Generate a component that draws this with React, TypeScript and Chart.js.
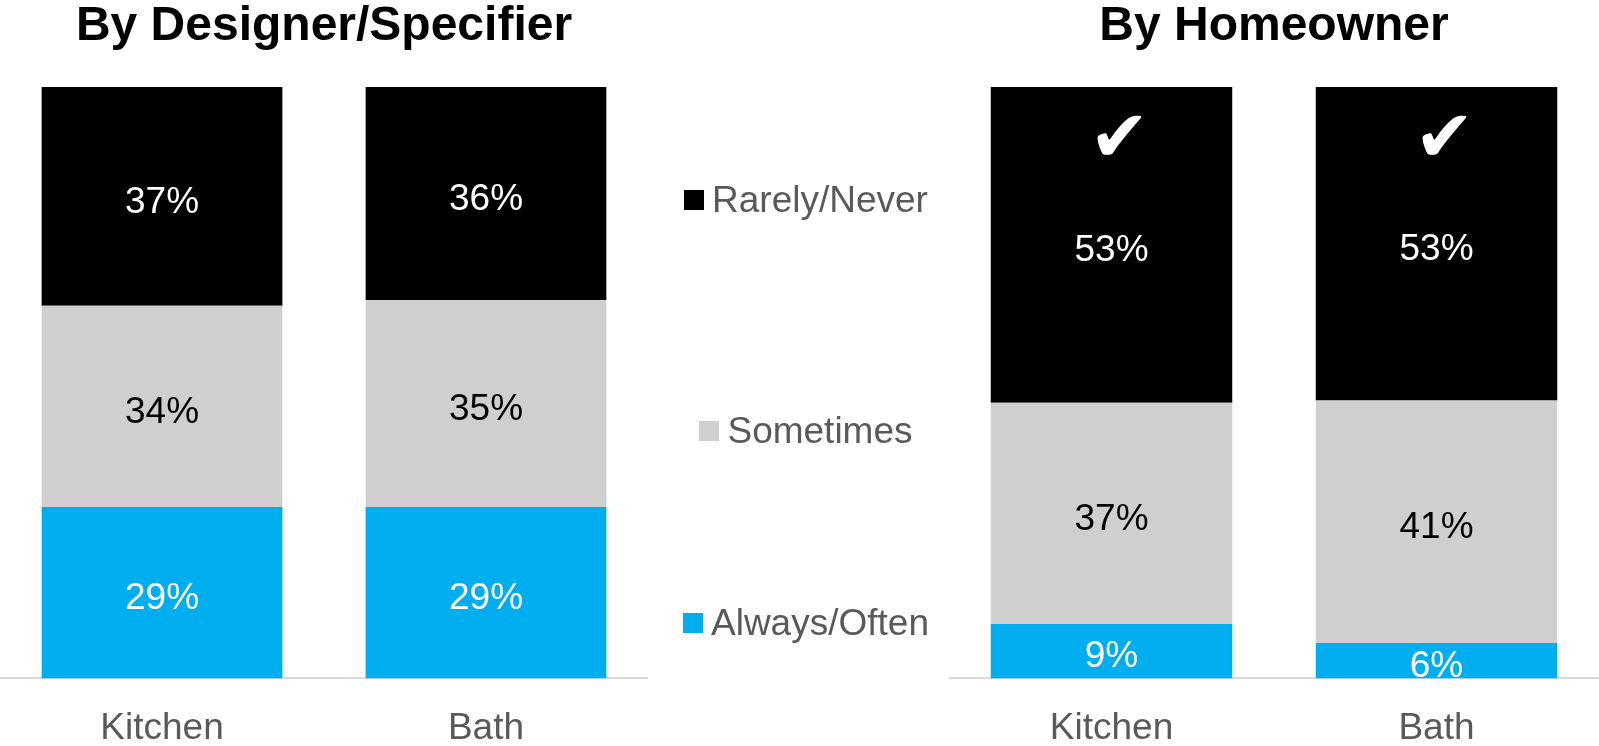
import React, { useEffect, useRef } from "react";
import { Chart, registerables } from "chart.js";

Chart.register(...registerables);

const categories = ["Kitchen", "Bath"];
const seriesNames = ["Always/Often", "Sometimes", "Rarely/Never"];
const seriesColors = ["#00AEEF", "#D0CECE", "#000000"];
const labelColors = ["#FFFFFF", "#000000", "#FFFFFF"];

// By Designer/Specifier
const designerAlways = [29, 29];
const designerSometimes = [34, 35];
const designerRarely = [37, 36];

// By Homeowner
const homeownerAlways = [9.2, 6];
const homeownerSometimes = [37.4, 41];
const homeownerRarely = [53.4, 53];
const homeownerChecked = [true, true];

const FONT = "'Liberation Sans', Arial, Helvetica, sans-serif";

const dataLabelPlugin = {
  id: "segLabels",
  afterDatasetsDraw(chart: any) {
    const ctx = chart.ctx;
    ctx.save();
    ctx.font = `37px ${FONT}`;
    ctx.textAlign = "center";
    ctx.textBaseline = "middle";
    chart.data.datasets.forEach((ds: any, di: number) => {
      const meta = chart.getDatasetMeta(di);
      meta.data.forEach((el: any, i: number) => {
        const v = ds.data[i];
        ctx.fillStyle = labelColors[di];
        ctx.fillText(`${Math.round(v)}%`, el.x, (el.y + el.base) / 2 + 6);
      });
    });
    ctx.restore();
  },
};

const checkPlugin = {
  id: "checks",
  afterDatasetsDraw(chart: any, _args: any, opts: any) {
    const checks: boolean[] = opts && opts.checks;
    if (!checks) return;
    const ctx = chart.ctx;
    const last = chart.data.datasets.length - 1;
    const meta = chart.getDatasetMeta(last);
    ctx.save();
    ctx.font = `72px 'DejaVu Sans', sans-serif`;
    ctx.textAlign = "center";
    ctx.textBaseline = "middle";
    ctx.fillStyle = "#FFFFFF";
    meta.data.forEach((el: any, i: number) => {
      if (checks[i]) ctx.fillText("\u2714", el.x + 8, el.y + 55);
    });
    ctx.restore();
  },
};

function StackChart(props: {
  title: string;
  always: number[];
  sometimes: number[];
  rarely: number[];
  checks?: boolean[];
  width: number;
  height: number;
}) {
  const ref = useRef<HTMLCanvasElement>(null);
  useEffect(() => {
    if (!ref.current) return;
    const values = [props.always, props.sometimes, props.rarely];
    const chart = new Chart(ref.current, {
      type: "bar",
      data: {
        labels: categories,
        datasets: seriesNames.map((name, i) => ({
          label: name,
          data: values[i],
          backgroundColor: seriesColors[i],
          borderWidth: 0,
          categoryPercentage: 1,
          barPercentage: 0.743,
        })),
      },
      options: {
        responsive: false,
        animation: false,
        layout: { padding: 0 },
        plugins: {
          legend: { display: false },
          tooltip: { enabled: false },
          title: {
            display: true,
            text: props.title,
            color: "#000000",
            font: { family: FONT, size: 48, weight: "bold", lineHeight: 1 },
            padding: { top: 3, bottom: 36 },
          },
          checks: { checks: props.checks },
        } as any,
        scales: {
          x: {
            stacked: true,
            grid: { display: false, drawTicks: false },
            border: { display: true, color: "#D9D9D9", width: 2 },
            ticks: {
              color: "#595959",
              font: { family: FONT, size: 37 },
              padding: 28.6,
            },
          },
          y: {
            stacked: true,
            display: false,
            min: 0,
            max: 100,
          },
        },
      },
      plugins: [dataLabelPlugin, checkPlugin],
    });
    return () => chart.destroy();
  }, []);
  return (
    <canvas
      ref={ref}
      width={props.width}
      height={props.height}
      style={{ width: props.width, height: props.height, display: "block" }}
    />
  );
}

const legendRows = [
  { name: "Rarely/Never", color: "#000000", center: 200 },
  { name: "Sometimes", color: "#D0CECE", center: 431 },
  { name: "Always/Often", color: "#00AEEF", center: 623 },
];

export default function App() {
  return (
    <div
      style={{
        position: "absolute",
        left: 0,
        top: 0,
        width: 1599,
        height: 746,
        background: "#FFFFFF",
        overflow: "hidden",
      }}
    >
      <div style={{ position: "absolute", left: 0, top: 0 }}>
        <StackChart
          title="By Designer/Specifier"
          always={designerAlways}
          sometimes={designerSometimes}
          rarely={designerRarely}
          width={648}
          height={780}
        />
      </div>
      <div style={{ position: "absolute", left: 949, top: 0 }}>
        <StackChart
          title="By Homeowner"
          always={homeownerAlways}
          sometimes={homeownerSometimes}
          rarely={homeownerRarely}
          checks={homeownerChecked}
          width={650}
          height={780}
        />
      </div>
      {legendRows.map((r) => (
        <div
          key={r.name}
          style={{
            position: "absolute",
            left: 648,
            width: 316,
            top: r.center - 22,
            height: 44,
            display: "flex",
            alignItems: "center",
            justifyContent: "center",
            fontFamily: FONT,
            fontSize: 37,
            color: "#595959",
            whiteSpace: "nowrap",
          }}
        >
          <span
            style={{
              display: "inline-block",
              width: 20,
              height: 20,
              background: r.color,
              marginRight: 8,
            }}
          />
          <span>{r.name}</span>
        </div>
      ))}
    </div>
  );
}
